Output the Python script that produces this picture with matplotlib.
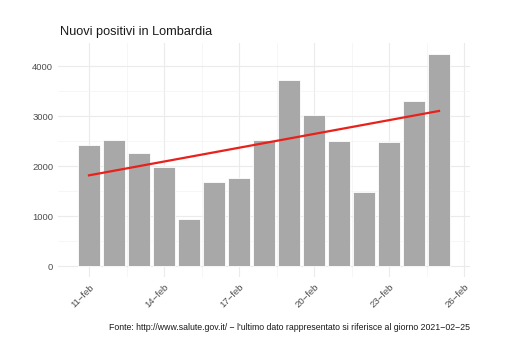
import numpy as np
import matplotlib
matplotlib.use("Agg")
import matplotlib.pyplot as plt

plt.rcParams["font.family"] = ["Liberation Sans", "DejaVu Sans"]

# daily new positives, 11 feb -> 25 feb 2021
days = np.arange(11, 26)
cases = [2433, 2527, 2273, 1980, 940, 1693, 1767, 2533,
         3720, 3013, 2513, 1487, 2480, 3307, 4240]
tick_days = [11, 14, 17, 20, 23, 26]
tick_labels = ["%d\u2212feb" % d for d in tick_days]
y_ticks = [0, 1000, 2000, 3000, 4000]

fig = plt.figure(figsize=(5.1, 3.43), dpi=100)
ax = fig.add_axes([58 / 510, 66 / 343, 412 / 510, 234 / 343])

ax.bar(days, cases, width=0.9, color="#a8a8a8", edgecolor="white",
       linewidth=0.6, zorder=2)

# linear trend over the data
slope, icpt = np.polyfit(days, cases, 1)
ax.plot(days, slope * days + icpt, color="#e8211a", lw=1.6, zorder=3)

ax.set_xlim(9.76, 26.24)
ax.set_ylim(-212, 4460)
ax.set_xticks(tick_days)
ax.set_xticklabels(tick_labels, rotation=45, ha="right",
                   rotation_mode="anchor")
ax.set_xticks(np.arange(12.5, 26, 3), minor=True)
ax.set_yticks(y_ticks)
ax.set_yticks([500, 1500, 2500, 3500], minor=True)

ax.grid(which="major", color="#ebebeb", lw=0.8, zorder=0)
ax.grid(which="minor", color="#f3f3f3", lw=0.5, zorder=0)
ax.set_axisbelow(True)
for s in ax.spines.values():
    s.set_visible(False)
ax.tick_params(which="both", length=0, labelsize=6.8, labelcolor="#4d4d4d")
ax.tick_params(axis="x", pad=4)

fig.text(60 / 510, 1 - 35 / 343, "Nuovi positivi in Lombardia",
         fontsize=9.2, color="#1a1a1a", va="baseline")
fig.text(470 / 510, 1 - 330 / 343,
         "Fonte: http://www.salute.gov.it/ \u2212 l'ultimo dato rappresentato "
         "si riferisce al giorno 2021\u221202\u221225",
         fontsize=6.3, ha="right", va="baseline", color="#1a1a1a")

fig.savefig("out.png", dpi=100)
